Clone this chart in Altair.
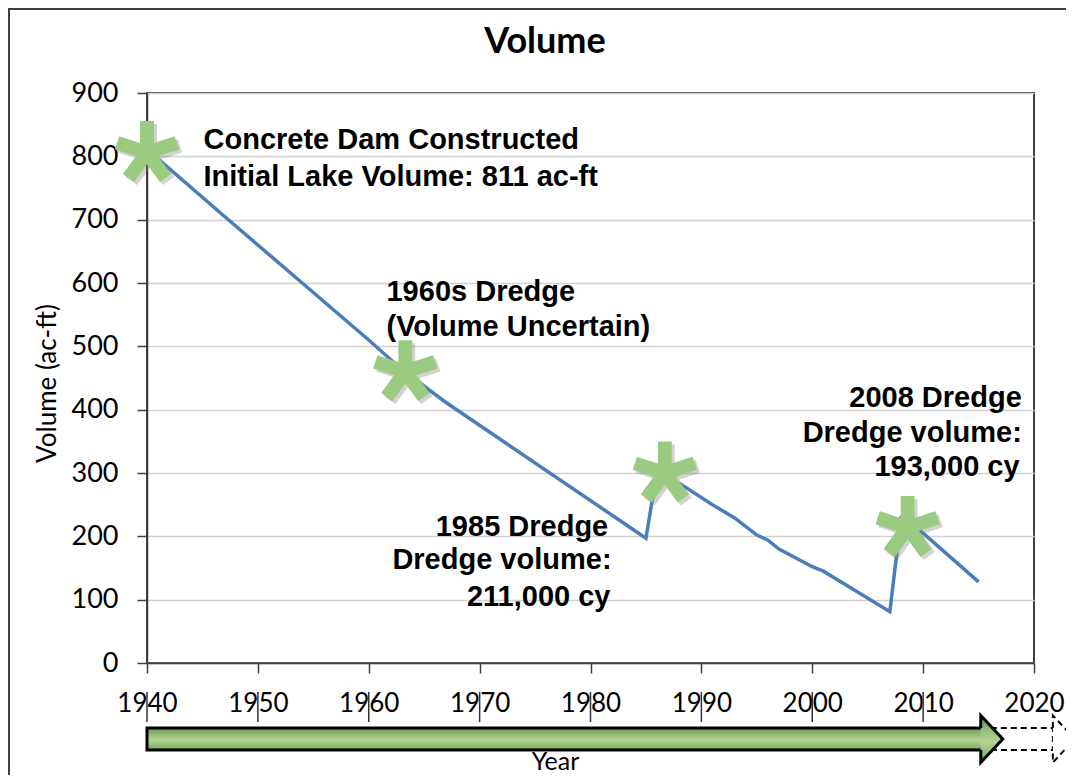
import math
import altair as alt
import pandas as pd

# ---------------- data ----------------
years = [1940, 1947, 1954, 1960, 1963, 1967, 1985, 1986, 1988, 1991, 1993,
         1995, 1996, 1997, 2000, 2001, 2007, 2008, 2010, 2015]
volume = [811, 705, 600, 510, 463, 411, 197, 303, 284, 250, 229,
          202, 194, 180, 152, 145, 81, 228, 205, 128]

event_years = [1940, 1963.3, 1986.7, 2008.6]
event_volume = [806, 460, 300, 214]

ann_text = ["Concrete Dam Constructed", "Initial Lake Volume: 811 ac-ft",
            "1960s Dredge", "(Volume Uncertain)",
            "1985 Dredge", "Dredge volume:", "211,000 cy",
            "2008 Dredge", "Dredge volume:", "193,000 cy"]
ann_year = [1945.1, 1945.1, 1961.6, 1961.6,
            1981.6, 1981.9, 1981.8,
            2018.9, 2018.9, 2018.7]
ann_vol = [826, 767, 586, 530,
           215, 162, 105,
           418, 363, 309]
ann_align = ["left", "left", "left", "left",
             "right", "right", "right",
             "right", "right", "right"]

x_ticks = [1940, 1950, 1960, 1970, 1980, 1990, 2000, 2010, 2020]
y_ticks = [0, 100, 200, 300, 400, 500, 600, 700, 800, 900]

timeline_start = [1940]
timeline_end = [2015.2]
future_end = [2021.7]

# ---------------- styles ----------------
W, H = 887, 570


def asterisk_path(arms=5, w=0.22):
    d = w / math.sin(math.pi / arms)
    pts = []
    for k in range(arms):
        t = math.radians(-90 + 360 / arms * k)
        ux, uy = math.cos(t), math.sin(t)
        nx, ny = -uy, ux
        pts.append((ux - nx * w, uy - ny * w))
        pts.append((ux + nx * w, uy + ny * w))
        ti = t + math.pi / arms
        pts.append((d * math.cos(ti), d * math.sin(ti)))
    return "M " + " L ".join(f"{x:.3f} {y:.3f}" for x, y in pts) + " Z"


STAR = asterisk_path()
HEAD = "M 0 -0.468 L 0 -1 L 0.936 0 L 0 1 L 0 0.468"

green_grad = alt.Gradient(
    gradient="linear", x1=0, y1=0, x2=0, y2=1,
    stops=[alt.GradientStop(color="#6e9c4e", offset=0),
           alt.GradientStop(color="#b3d597", offset=0.55),
           alt.GradientStop(color="#77a657", offset=1)])

xs = alt.Scale(domain=[1940, 2020], nice=False, zero=False)
ys = alt.Scale(domain=[0, 900], nice=False)

x_axis = alt.Axis(
    values=x_ticks, format="d", grid=False, tickSize=10, tickWidth=1.5,
    tickColor="#404040", domainColor="#404040", domainWidth=1.5,
    labelFont="Lato", labelFontSize=26, labelColor="black", labelPadding=17,
    labelFlush=False, title="Year", titleFont="Lato", titleFontSize=25,
    titleFontWeight="normal", titleColor="black", titleX=408, titleY=98,
    titleBaseline="middle")
y_axis = alt.Axis(
    values=y_ticks, grid=True, gridColor="#d0d0d0", gridWidth=1.5,
    tickSize=10, tickWidth=1.5, tickColor="#404040", domainColor="#404040",
    domainWidth=1.5, labelFont="Lato", labelFontSize=27, labelColor="black",
    labelPadding=19, title="Volume (ac-ft)", titleFont="Lato", titleFontSize=26,
    titleFontWeight="normal", titleColor="black", titleX=-100, titleY=290,
    titleBaseline="middle")


def X(field):
    return alt.X(field, scale=xs, axis=x_axis, title="Year")


def Y(field):
    return alt.Y(field, scale=ys, axis=y_axis, title="Volume (ac-ft)")


line_df = pd.DataFrame({"year": years, "vol": volume})
ev_df = pd.DataFrame({"year": event_years, "vol": event_volume})
ann_df = pd.DataFrame({"year": ann_year, "vol": ann_vol, "text": ann_text, "align": ann_align})
tl_df = pd.DataFrame({"start": timeline_start, "end": timeline_end, "fut": future_end})
tick_df = pd.DataFrame({"year": x_ticks[:-1]})

line = alt.Chart(line_df).mark_line(color="#4a7ebb", strokeWidth=3.5).encode(
    x=X("year:Q"), y=Y("vol:Q"))

shadow = alt.Chart(ev_df).mark_point(
    shape=STAR, filled=True, size=3969, color="#7f7f7f", opacity=0.35,
    strokeWidth=0, xOffset=3, yOffset=3).encode(x=X("year:Q"), y=Y("vol:Q"))

stars = alt.Chart(ev_df).mark_point(
    shape=STAR, filled=True, size=3969, color="#9bcb80", opacity=1,
    strokeWidth=0).encode(x=X("year:Q"), y=Y("vol:Q"))

ann_left = alt.Chart(ann_df).transform_filter(alt.datum.align == "left").mark_text(
    align="left", baseline="middle", font="Liberation Sans", fontWeight="bold",
    fontSize=29, color="black").encode(x=X("year:Q"), y=Y("vol:Q"), text="text:N")

ann_right = alt.Chart(ann_df).transform_filter(alt.datum.align == "right").mark_text(
    align="right", baseline="middle", font="Liberation Sans", fontWeight="bold",
    fontSize=29, color="black").encode(x=X("year:Q"), y=Y("vol:Q"), text="text:N")

title = alt.Chart(pd.DataFrame({"t": ["Volume"]})).mark_text(
    align="center", baseline="middle", font="Lato", fontWeight="bold",
    fontSize=36, color="black").encode(
    x=alt.value(398), y=alt.value(-51), text="t:N")

# timeline arrows below the axis
fut_body = alt.Chart(tl_df).mark_rect(
    fill="white", stroke="black", strokeWidth=2, strokeDash=[6, 4]).encode(
    x=X("end:Q"), x2=alt.X2("fut:Q"),
    y=alt.value(635), y2=alt.value(657))
fut_head = alt.Chart(tl_df).mark_point(
    shape=HEAD, size=2209, fill="white", fillOpacity=1, stroke="black",
    strokeWidth=2, strokeDash=[6, 4], opacity=1).encode(
    x=X("fut:Q"), y=alt.value(646))

body = alt.Chart(tl_df).transform_calculate(under="datum.end + 0.7").mark_rect(
    fill=green_grad, stroke="black", strokeWidth=3).encode(
    x=X("start:Q"), x2=alt.X2("under:Q"),
    y=alt.value(635), y2=alt.value(657))
head = alt.Chart(tl_df).mark_point(
    shape=HEAD, size=2209, fill=green_grad, fillOpacity=1, stroke="black",
    strokeWidth=3, opacity=1).encode(
    x=X("end:Q"), y=alt.value(646))

tick_lines = alt.Chart(tick_df).mark_rule(color="#333333", strokeWidth=1.5).encode(
    x=X("year:Q"), y=alt.value(599), y2=alt.value(629))

border = alt.Chart(pd.DataFrame({"a": [0]})).mark_rect(
    fill=None, stroke="#404040", strokeWidth=2).encode(
    x=alt.value(-138), x2=alt.value(960), y=alt.value(-84), y2=alt.value(720))

chart = alt.layer(
    border, line, shadow, stars, ann_left, ann_right, title,
    tick_lines, fut_body, fut_head, body, head
).properties(
    width=W, height=H,
    autosize=alt.AutoSizeParams(type="none"),
    padding={"left": 139, "top": 85, "right": 32, "bottom": 112},
).configure_view(stroke="#404040", strokeWidth=2)

chart.save("out.html", embed_options={"renderer": "svg", "actions": False})
